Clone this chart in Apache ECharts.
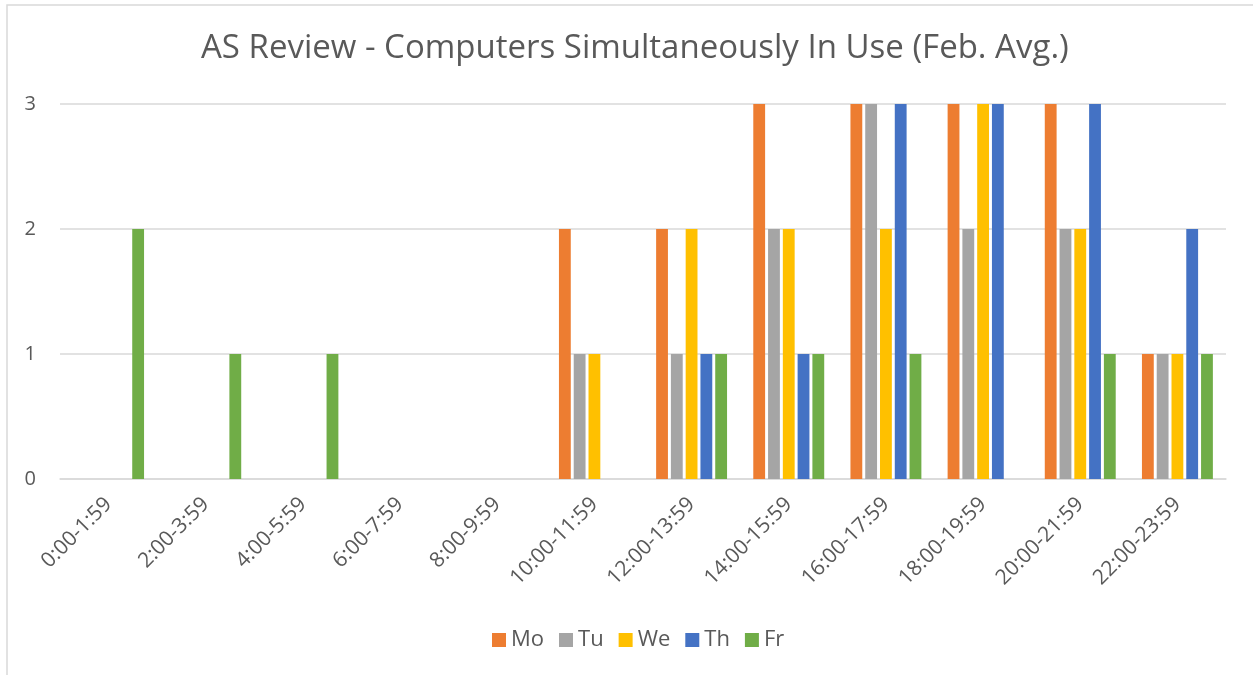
<!DOCTYPE html>
<html>
<head>
<meta charset="utf-8">
<script src="https://cdn.jsdelivr.net/npm/echarts@6/dist/echarts.min.js"></script>
<style>html,body{margin:0;padding:0;background:#fff;}#c{width:1253px;height:675px;}</style>
</head>
<body>
<div id="c"></div>
<script>
const categories = ["0:00-1:59","2:00-3:59","4:00-5:59","6:00-7:59","8:00-9:59","10:00-11:59","12:00-13:59","14:00-15:59","16:00-17:59","18:00-19:59","20:00-21:59","22:00-23:59"];
const seriesNames = ["Mo","Tu","We","Th","Fr"];
const mo = [0,0,0,0,0,2,2,3,3,3,3,1];
const tu = [0,0,0,0,0,1,1,2,3,2,2,1];
const we = [0,0,0,0,0,1,2,2,2,3,2,1];
const th = [0,0,0,0,0,0,1,1,3,3,3,2];
const fr = [2,1,1,0,0,0,1,1,1,0,1,1];
const yTicks = [0,1,2,3];
const colors = ["#ED7D31","#A5A5A5","#FFC000","#4472C4","#70AD47"];
const values = [mo,tu,we,th,fr];

const font = "Open Sans";
const chart = echarts.init(document.getElementById('c'));
chart.setOption({
  animation:false,
  textStyle:{fontFamily:font},
  title:{text:"AS Review - Computers Simultaneously In Use (Feb. Avg.)",left:196,top:27,
    textStyle:{fontFamily:font,fontSize:33,fontWeight:'normal',color:'#595959'}},
  legend:{top:624,left:487,itemWidth:14,itemHeight:14,itemGap:15,icon:'rect',
    textStyle:{fontFamily:font,fontSize:22,color:'#595959'},data:seriesNames},
  grid:{left:60,right:27,top:104,bottom:196,containLabel:false},
  xAxis:{type:'category',data:categories,
    axisLine:{lineStyle:{color:'#d9d9d9',width:1.5}},axisTick:{show:false},
    axisLabel:{rotate:45,fontFamily:font,fontSize:21,color:'#595959',margin:22,interval:0}},
  yAxis:{type:'value',min:0,max:3,interval:1,
    axisLine:{show:false},axisTick:{show:false},
    splitLine:{lineStyle:{color:'#d9d9d9',width:1.5}},
    axisLabel:{fontFamily:font,fontSize:20,color:'#595959',margin:24,
      formatter:v=>yTicks.includes(v)?String(v):''}},
  graphic:[{type:'rect',shape:{x:7,y:5,width:1300,height:700},
    style:{fill:'none',stroke:'#d9d9d9',lineWidth:1.5},silent:true}],
  series:seriesNames.map((n,i)=>({name:n,type:'bar',data:values[i],
    itemStyle:{color:colors[i]},barGap:'25%',barCategoryGap:'27%'}))
});
</script>
</body>
</html>
